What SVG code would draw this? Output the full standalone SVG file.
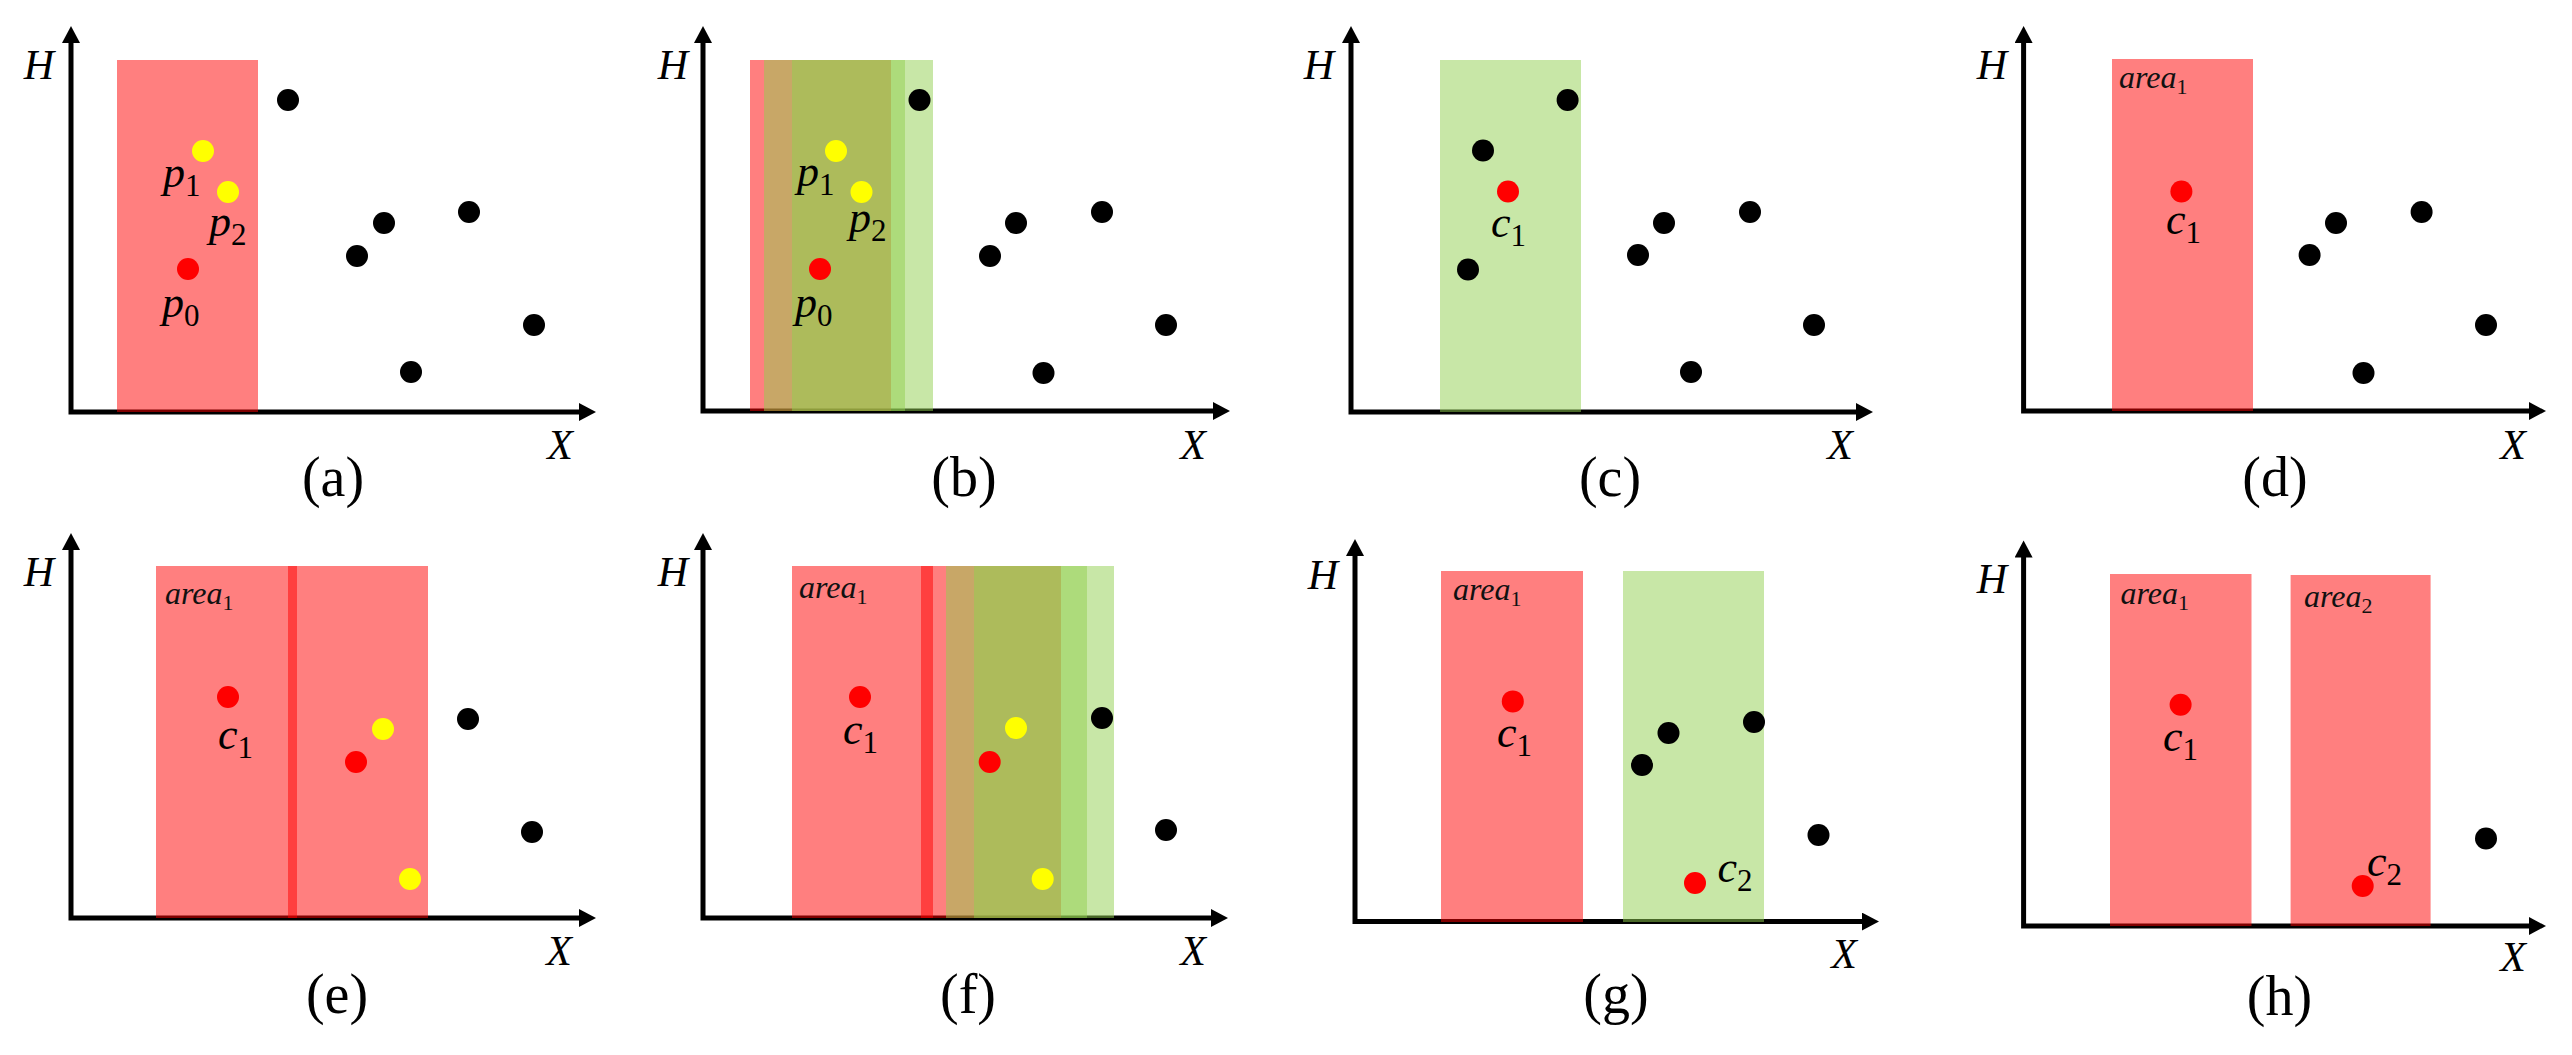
<svg xmlns="http://www.w3.org/2000/svg" width="2572" height="1055" viewBox="0 0 2572 1055" font-family="Liberation Serif, DejaVu Serif, Times New Roman, serif">
<defs>
<marker id="ah" markerUnits="userSpaceOnUse" markerWidth="18" markerHeight="18" refX="9" refY="9" orient="auto-start-reverse"><path d="M0,0 L17,9 L0,18 z" fill="#000"/></marker>
</defs>
<style>
.ax{fill:none;stroke:#000;stroke-width:5;marker-start:url(#ah);marker-end:url(#ah)}
.rd{fill:#FF0000;fill-opacity:.5}
.gr{fill:#92D050;fill-opacity:.5}
.pk{fill:#000}.py{fill:#FFFF00}.pr{fill:#FF0000}
text{font-family:"Liberation Serif","DejaVu Serif",serif}
.m{font-style:italic;font-size:44px;fill:#000}
.sub{font-style:normal;font-size:31px}
.ar{font-style:italic;font-size:32px;fill:#111}
.asub{font-style:normal;font-size:22px}
.cap{font-size:56px;text-anchor:middle;fill:#000}
.axl{font-style:italic;font-size:42px;text-anchor:middle;fill:#000}
</style>
<rect width="2572" height="1055" fill="#fff"/>

<g id="panel-a">
<path class="ax" d="M71,34 V412 H588"/>
<rect class="rd" x="117" y="60" width="141" height="352"/>
<g>
<circle class="pk" cx="288" cy="100" r="11"/><circle class="pk" cx="384" cy="223" r="11"/><circle class="pk" cx="357" cy="256" r="11"/><circle class="pk" cx="469" cy="212" r="11"/><circle class="pk" cx="411" cy="372" r="11"/><circle class="pk" cx="534" cy="325" r="11"/>
<circle class="py" cx="203" cy="151" r="11"/><circle class="py" cx="228" cy="192" r="11"/><circle class="pr" cx="188" cy="269" r="11"/>
</g>
<text class="m" x="163" y="187" font-family="Liberation Serif">p<tspan class="sub" dy="9">1</tspan></text>
<text class="m" x="209" y="236" font-family="Liberation Serif">p<tspan class="sub" dy="9">2</tspan></text>
<text class="m" x="162" y="317" font-family="Liberation Serif">p<tspan class="sub" dy="9">0</tspan></text>
<text class="axl" x="39" y="79" font-family="Liberation Serif">H</text><text class="axl" x="560" y="459" font-family="Liberation Serif">X</text>
<text class="cap" x="333" y="496" font-family="Liberation Serif">(a)</text>
</g>

<g id="panel-b">
<path class="ax" d="M703,34 V411 H1222"/>
<rect class="rd" x="750" y="60" width="141" height="351"/>
<rect class="gr" x="764" y="60" width="141" height="351"/>
<rect class="gr" x="792" y="60" width="141" height="351"/>
<g>
<circle class="pk" cx="919.5" cy="100" r="11"/><circle class="pk" cx="1016" cy="223" r="11"/><circle class="pk" cx="990" cy="256" r="11"/><circle class="pk" cx="1102" cy="212" r="11"/><circle class="pk" cx="1043.5" cy="373" r="11"/><circle class="pk" cx="1166" cy="325" r="11"/>
<circle class="py" cx="836" cy="151" r="11"/><circle class="py" cx="861.5" cy="192" r="11"/><circle class="pr" cx="820" cy="269" r="11"/>
</g>
<text class="m" x="797" y="186">p<tspan class="sub" dy="9">1</tspan></text>
<text class="m" x="849" y="232">p<tspan class="sub" dy="9">2</tspan></text>
<text class="m" x="795" y="317">p<tspan class="sub" dy="9">0</tspan></text>
<text class="axl" x="673" y="79">H</text><text class="axl" x="1193" y="459">X</text>
<text class="cap" x="964" y="496">(b)</text>
</g>

<g id="panel-c">
<path class="ax" d="M1351,34 V412 H1865"/>
<rect class="gr" x="1440" y="60" width="141" height="352"/>
<g>
<circle class="pk" cx="1567.6" cy="100" r="11"/><circle class="pk" cx="1483" cy="150.5" r="11"/><circle class="pk" cx="1468" cy="269.5" r="11"/><circle class="pk" cx="1664" cy="223" r="11"/><circle class="pk" cx="1638" cy="255" r="11"/><circle class="pk" cx="1750" cy="212" r="11"/><circle class="pk" cx="1691" cy="372" r="11"/><circle class="pk" cx="1814" cy="325" r="11"/>
<circle class="pr" cx="1508" cy="191.5" r="11"/>
</g>
<text class="m" x="1491" y="237">c<tspan class="sub" dy="9">1</tspan></text>
<text class="axl" x="1319" y="79">H</text><text class="axl" x="1840" y="459">X</text>
<text class="cap" x="1610" y="496">(c)</text>
</g>

<g id="panel-d">
<path class="ax" d="M2023.6,34 V411 H2538"/>
<rect class="rd" x="2112" y="59" width="141" height="352"/>
<text class="ar" x="2119" y="88">area<tspan class="asub" dy="6">1</tspan></text>
<g>
<circle class="pr" cx="2181.4" cy="191.5" r="11"/>
<circle class="pk" cx="2336" cy="223" r="11"/><circle class="pk" cx="2309.6" cy="255" r="11"/><circle class="pk" cx="2421.6" cy="212" r="11"/><circle class="pk" cx="2363.5" cy="373" r="11"/><circle class="pk" cx="2486" cy="325" r="11"/>
</g>
<text class="m" x="2166" y="234">c<tspan class="sub" dy="9">1</tspan></text>
<text class="axl" x="1992" y="79">H</text><text class="axl" x="2513" y="459">X</text>
<text class="cap" x="2275" y="496">(d)</text>
</g>

<g id="panel-e">
<path class="ax" d="M71,541 V918 H588"/>
<rect class="rd" x="156" y="566" width="141" height="352"/>
<rect class="rd" x="288" y="566" width="140" height="352"/>
<text class="ar" x="165" y="604">area<tspan class="asub" dy="6">1</tspan></text>
<g>
<circle class="pr" cx="228" cy="697" r="11"/><circle class="pr" cx="356" cy="762" r="11"/>
<circle class="py" cx="383" cy="729" r="11"/><circle class="py" cx="410" cy="879" r="11"/>
<circle class="pk" cx="468" cy="719" r="11"/><circle class="pk" cx="532" cy="832" r="11"/>
</g>
<text class="m" x="218" y="749">c<tspan class="sub" dy="9">1</tspan></text>
<text class="axl" x="39" y="586">H</text><text class="axl" x="559" y="965">X</text>
<text class="cap" x="337" y="1013">(e)</text>
</g>

<g id="panel-f">
<path class="ax" d="M703,541 V918 H1220"/>
<rect class="rd" x="792" y="566" width="141" height="352"/>
<rect class="rd" x="921" y="566" width="140" height="352"/>
<rect class="gr" x="946" y="566" width="141" height="352"/>
<rect class="gr" x="974" y="566" width="140" height="352"/>
<text class="ar" x="799" y="598">area<tspan class="asub" dy="6">1</tspan></text>
<g>
<circle class="pr" cx="860" cy="697" r="11"/><circle class="pr" cx="989.7" cy="762" r="11"/>
<circle class="py" cx="1016" cy="728" r="11"/><circle class="py" cx="1042.7" cy="879" r="11"/>
<circle class="pk" cx="1102" cy="718" r="11"/><circle class="pk" cx="1166" cy="830" r="11"/>
</g>
<text class="m" x="843" y="744">c<tspan class="sub" dy="9">1</tspan></text>
<text class="axl" x="673" y="586">H</text><text class="axl" x="1193" y="965">X</text>
<text class="cap" x="968" y="1013">(f)</text>
</g>

<g id="panel-g">
<path class="ax" d="M1355,547 V921.6 H1871"/>
<rect class="rd" x="1441" y="571" width="142" height="351"/>
<rect class="gr" x="1623" y="571" width="141" height="351"/>
<text class="ar" x="1453" y="600">area<tspan class="asub" dy="6">1</tspan></text>
<g>
<circle class="pr" cx="1512.8" cy="701.4" r="11"/>
<circle class="pk" cx="1668.5" cy="733" r="11"/><circle class="pk" cx="1642" cy="765" r="11"/><circle class="pk" cx="1754" cy="722" r="11"/><circle class="pk" cx="1818.5" cy="835" r="11"/>
<circle class="pr" cx="1695" cy="883" r="11"/>
</g>
<text class="m" x="1497" y="747">c<tspan class="sub" dy="9">1</tspan></text>
<text class="m" x="1717.5" y="882">c<tspan class="sub" dy="9">2</tspan></text>
<text class="axl" x="1323" y="589">H</text><text class="axl" x="1844" y="968">X</text>
<text class="cap" x="1616" y="1013">(g)</text>
</g>

<g id="panel-h">
<path class="ax" d="M2023.6,548.5 V926 H2538"/>
<rect class="rd" x="2110" y="574" width="141.5" height="352"/>
<rect class="rd" x="2290.6" y="575" width="140" height="351"/>
<text class="ar" x="2120.5" y="604">area<tspan class="asub" dy="6">1</tspan></text>
<text class="ar" x="2304" y="607">area<tspan class="asub" dy="6">2</tspan></text>
<g>
<circle class="pr" cx="2180.6" cy="704.8" r="11"/><circle class="pr" cx="2362.7" cy="886" r="11"/>
<circle class="pk" cx="2486" cy="838.5" r="11"/>
</g>
<text class="m" x="2163" y="751">c<tspan class="sub" dy="9">1</tspan></text>
<text class="m" x="2367" y="876">c<tspan class="sub" dy="9">2</tspan></text>
<text class="axl" x="1992" y="593">H</text><text class="axl" x="2513" y="971">X</text>
<text class="cap" x="2279.5" y="1015">(h)</text>
</g>
</svg>
